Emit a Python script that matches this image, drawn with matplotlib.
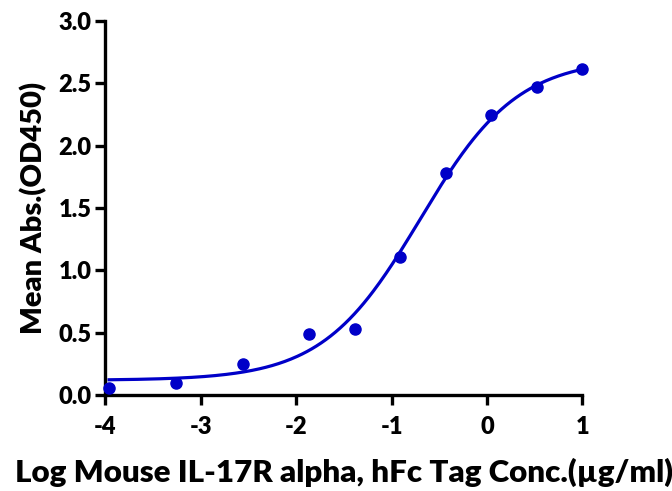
import matplotlib
matplotlib.use('Agg')
import matplotlib.pyplot as plt
import numpy as np

plt.rcParams['font.family'] = ['Lato', 'DejaVu Sans']
plt.rcParams['font.weight'] = 'heavy'
plt.rcParams['axes.unicode_minus'] = False

# measured points (log conc, OD450)
log_conc = [-3.96, -3.26, -2.56, -1.86, -1.385, -0.908, -0.431, 0.046, 0.523, 1.0]
od450 = [0.061, 0.096, 0.248, 0.488, 0.528, 1.11, 1.78, 2.244, 2.466, 2.61]

# 4PL fit parameters
bottom = 0.12
top = 2.70
log_ec50 = -0.70
hill = 0.85

blue = '#0000C8'

fig = plt.figure(figsize=(6.72, 4.91), dpi=100)
ax = fig.add_axes([105.3/672, 95.7/491, 477/672, 374.6/491])

xf = np.linspace(log_conc[0], log_conc[-1], 300)
yf = bottom + (top - bottom) / (1 + 10 ** ((log_ec50 - xf) * hill))
ax.plot(xf, yf, color=blue, lw=2.3, clip_on=False)
ax.plot(log_conc, od450, 'o', color=blue, ms=8, clip_on=False, zorder=5)

ax.set_xlim(-4, 1)
ax.set_ylim(0, 3.0)
ax.set_xticks([-4, -3, -2, -1, 0, 1])
ax.set_yticks(np.arange(0, 3.01, 0.5))
ax.set_yticklabels(['0.0', '0.5', '1.0', '1.5', '2.0', '2.5', '3.0'])
for s in ['top', 'right']:
    ax.spines[s].set_visible(False)
for s in ['left', 'bottom']:
    ax.spines[s].set_linewidth(2.4)
ax.tick_params(width=2.4, length=7, labelsize=17, pad=3)
ax.tick_params(axis='x', pad=8)
for lab in ax.get_xticklabels() + ax.get_yticklabels():
    lab.set_fontweight('heavy')

ax.set_xlabel('Log Mouse IL-17R alpha, hFc Tag Conc.(\u00b5g/ml)', fontsize=22.5, fontweight='heavy', labelpad=14)
ax.set_ylabel('Mean Abs.(OD450)', fontsize=21, fontweight='heavy', labelpad=8)

fig.savefig('out.png', dpi=100)
